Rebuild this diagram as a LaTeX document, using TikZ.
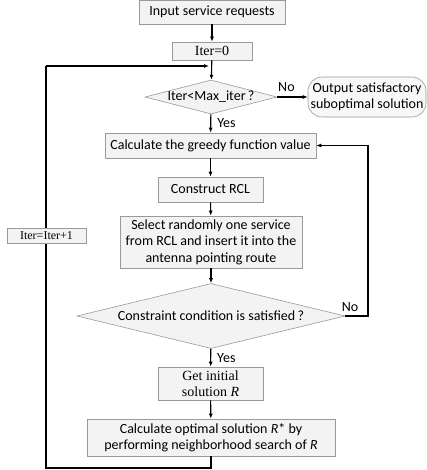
\documentclass[tikz,border=0pt]{standalone}
\usepackage{fontspec}
\setmainfont{Carlito}
\newfontfamily\tnr{Liberation Serif}
\usetikzlibrary{shapes.geometric,arrows.meta}
\definecolor{boxfill}{HTML}{F3F3F3}
\definecolor{boxline}{HTML}{9A9A9A}
\tikzset{
  box/.style={draw=boxline, fill=boxfill, line width=0.6pt, inner sep=0pt, align=center, font=\fontsize{14}{16.5}\selectfont},
  serif/.style={font=\tnr\fontsize{14}{16}\selectfont},
  dia/.style={draw=boxline, fill=boxfill, line width=0.6pt, shape=diamond, inner sep=0pt, font=\fontsize{14}{16.5}\selectfont},
  flow/.style={line width=1.1pt, -{Latex[length=5pt,width=4pt]}},
  link/.style={line width=1.1pt},
  lbl/.style={font=\fontsize{14}{16}\selectfont, inner sep=0pt}
}
\begin{document}
\begin{tikzpicture}[x=1pt,y=-1pt]
\useasboundingbox (0,0) rectangle (427,470);

\node[box, minimum width=146, minimum height=24] (in) at (212,12) {Input service requests};
\node[box, serif, minimum width=80, minimum height=18] (iter0) at (212,51) {Iter=0};
\coordinate (join) at (211,66);
\node[dia, minimum width=132, minimum height=34] (d1) at (211,97) {\makebox[0pt]{Iter<Max\_iter\,?}};
\node[box, rounded corners=14pt, minimum width=118, minimum height=40, fill=boxfill!60!white] (out) at (367,97) {Output satisfactory\\suboptimal solution};
\node[box, minimum width=211, minimum height=25] (greedy) at (210.5,145.5) {Calculate the greedy function value};
\node[box, minimum width=105, minimum height=25] (rcl) at (210.5,189.5) {Construct RCL};
\node[box, minimum width=182, minimum height=52] (sel) at (211,242) {Select randomly one service\\from RCL and insert it into the\\antenna pointing route};
\node[dia, minimum width=268, minimum height=65] (d2) at (211,316) {\makebox[0pt]{Constraint condition is satisfied\,?}};
\node[box, serif, minimum width=105, minimum height=33] (init) at (210.5,383.5) {Get initial\\solution \textit{R}};
\node[box, minimum width=248, minimum height=37] (opt) at (211,437.5) {Calculate optimal solution \textit{R}* by\\performing neighborhood search of \textit{R}};
\coordinate (bl) at (211,468);
\coordinate (lft) at (46,468);
\coordinate (tl) at (46,66);
\coordinate (rgt) at (368,316);

\draw[flow] (in) -- (iter0);
\draw[flow] (iter0) -- (d1);
\draw[flow] (d1) -- node[lbl, pos=0.3, above=5pt] {No} (out);
\draw[flow] (d1) -- node[lbl, right=6pt] {Yes} (greedy);
\draw[flow] (greedy) -- (rcl);
\draw[flow] (rcl) -- (sel);
\draw[flow] (sel) -- (d2);
\draw[flow] (d2.east) -- (rgt) |- (greedy.east);
\node[lbl] at (350,307) {No};
\draw[flow] (d2) -- node[lbl, right=6pt] {Yes} (init);
\draw[flow] (init) -- (opt);
\draw[link] (opt.south) -- (bl) -- (lft) -- (tl);
\draw[flow] (tl) -- ([xshift=-2pt]join);
\node[box, serif, font=\tnr\fontsize{12}{14}\selectfont, minimum width=79, minimum height=15] (inc) at (46.5,236) {Iter=Iter+1};
\end{tikzpicture}
\end{document}
